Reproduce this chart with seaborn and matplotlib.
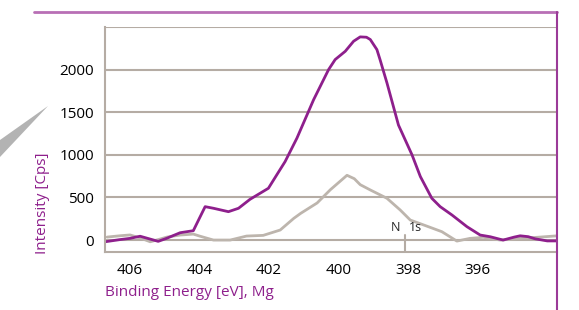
import matplotlib.pyplot as plt
import seaborn as sns
import pandas as pd
from matplotlib.lines import Line2D
from matplotlib.patches import Polygon

# XPS N 1s region, two spectra
e_purple = [406.72, 406.3, 406.0, 405.71, 405.45, 405.19, 404.95, 404.56, 404.18,
            404.03, 403.84, 403.60, 403.17, 402.88, 402.55, 402.26, 402.02, 401.78,
            401.54, 401.20, 400.72, 400.29, 400.10, 399.81, 399.57, 399.38, 399.20,
            399.09, 398.90, 398.81, 398.61, 398.28, 397.89, 397.65, 397.32, 397.08,
            396.74, 396.31, 395.93, 395.64, 395.27, 394.95, 394.78, 394.55, 394.35,
            394.00, 393.71]
i_purple = [-20, 5, 20, 45, 15, -15, 20, 86, 110,
            235, 392, 373, 333, 373, 478, 549, 608, 765,
            921, 1196, 1647, 2000, 2118, 2215, 2333, 2384, 2380,
            2353, 2235, 2118, 1843, 1350, 1000, 745, 490, 392,
            294, 157, 59, 39, 0, 35, 50, 40, 15,
            -10, -10]

e_gray = [406.66, 406.3, 406.0, 405.71, 405.42, 405.15, 404.94, 404.56, 404.18,
          404.0, 403.60, 403.12, 402.65, 402.17, 401.68, 401.29, 401.09, 400.62,
          400.24, 399.76, 399.55, 399.38, 399.09, 398.61, 398.23, 397.94, 397.42,
          397.03, 396.60, 396.22, 395.84, 395.35, 394.78, 394.20, 393.71]
i_gray = [35, 50, 60, 25, -20, 10, 35, 59, 70,
          47, 0, 0, 47, 55, 118, 255, 314, 435,
          590, 760, 720, 650, 588, 490, 353, 235, 157,
          98, -12, 20, 32, 0, 20, 35, 50]

x_ticks = [406, 404, 402, 400, 398, 396, 394]
x_labels = ['406', '404', '402', '400', '398', '396', '']
y_ticks = [0, 500, 1000, 1500, 2000]

purple = '#8e1f8c'
gray = '#bdb5ad'
grid = '#b5aca4'

sns.set_style('white')
plt.rcParams['font.family'] = ['Open Sans', 'DejaVu Sans']

fig = plt.figure(figsize=(5.79, 3.10), dpi=100)
ax = fig.add_axes([105/579, 58/310, 452/579, 225/310])

df_p = pd.DataFrame({'E': e_purple, 'I': i_purple})
df_g = pd.DataFrame({'E': e_gray, 'I': i_gray})
sns.lineplot(data=df_g, x='E', y='I', ax=ax, color=gray, lw=2.0,
             solid_joinstyle='round')
sns.lineplot(data=df_p, x='E', y='I', ax=ax, color=purple, lw=2.0,
             solid_joinstyle='round')

ax.set_xlim(406.72, 393.72)
ax.set_ylim(-140, 2500)
for v in y_ticks + [2500]:
    ax.axhline(v, color=grid, lw=1.5, zorder=0)

ax.set_yticks(y_ticks)
ax.set_xticks(x_ticks)
ax.set_xticklabels(x_labels)
ax.tick_params(axis='y', length=0, pad=8, labelsize=11, labelcolor='black')
ax.tick_params(axis='x', length=5, width=1.5, color=grid, pad=3, labelsize=11,
               labelcolor='black', direction='out')
for s in ['top', 'right']:
    ax.spines[s].set_visible(False)
for s in ['left', 'bottom']:
    ax.spines[s].set_color(grid)
    ax.spines[s].set_linewidth(1.5)

ax.set_xlabel('')
ax.set_ylabel('')

# N 1s marker
ax.plot([398.09, 398.09], [-140, 60], color=grid, lw=1.5, zorder=1)
ax.text(398.22, 70, 'N', ha='right', va='bottom', fontsize=9)
ax.text(397.98, 70, '1s', ha='left', va='bottom', fontsize=9)

fig.text(105/579, 1 - 292/310, 'Binding Energy [eV], Mg', color=purple,
         fontsize=11, ha='left', va='center')
fig.text(43/579, 1 - 203/310, 'Intensity [Cps]', color=purple, fontsize=11,
         rotation=90, ha='center', va='center')

# decorative frame lines and wedge
fig.add_artist(Line2D([34/579, 557/579], [1 - 12/310, 1 - 12/310],
                      transform=fig.transFigure, color='#b86fb5', lw=2))
fig.add_artist(Line2D([557/579, 557/579], [1 - 12/310, 0],
                      transform=fig.transFigure, color='#9b3a98', lw=1.5))
fig.add_artist(Polygon([(48/579, 1 - 106/310), (0, 1 - 140/310), (0, 1 - 157/310)],
                       closed=True, transform=fig.transFigure,
                       facecolor='#b3b3b3', edgecolor='none'))

fig.savefig('out.png', dpi=100)
